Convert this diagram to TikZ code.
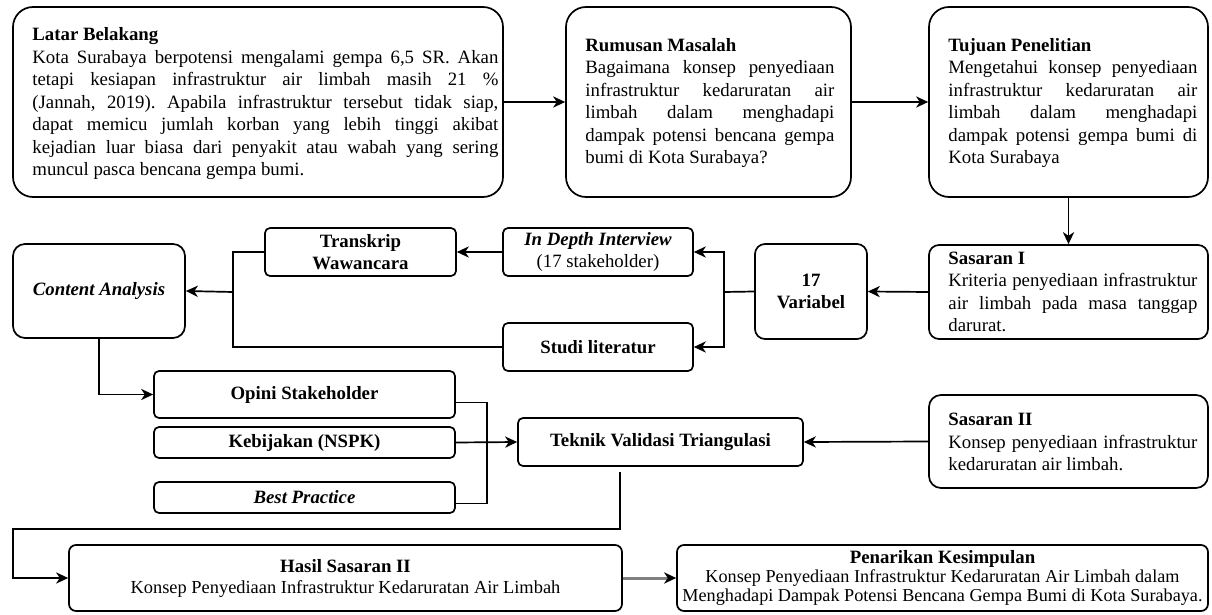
\documentclass[tikz,border=0pt]{standalone}
\usepackage{fontspec}
\setmainfont{Liberation Serif}
\usetikzlibrary{arrows.meta,calc}
\frenchspacing

% one justified line / one plain line of a boxed paragraph
\newcommand\jl[1]{\hbox to\hsize{#1}}
\newcommand\pl[1]{\hbox{#1}}

\tikzset{
  x=0.5pt, y=-0.5pt,
  bx/.style={draw, line width=0.85pt, inner sep=0pt, rounded corners=#1,
    font=\fontsize{9.4}{11}\selectfont\bfseries, align=center},
  bx/.default=2.5pt,
  bxr/.style={bx=#1, font=\fontsize{9.2}{10}\selectfont},
  para/.style={inner sep=0pt, anchor=west, font=\fontsize{9.4}{11.25}\selectfont},
  ln/.style={line width=0.85pt},
  arr/.style={line width=0.85pt, -{Stealth[length=6pt,width=5.6pt,inset=1.8pt]}},
  garr/.style={line width=1.5pt, draw=gray, -{Stealth[length=6pt,width=5.6pt,inset=1.8pt,color=black]}},
}

\begin{document}
\begin{tikzpicture}
\useasboundingbox[fill=white] (0,0) rectangle (1212,615);

% ---- top row
\node[bx=10pt, minimum width=245pt, minimum height=95pt] (latar) at (258,102) {};
\node[para] (latarT) at (32,104) {\vbox{\hsize=233pt
  \pl{\bfseries Latar Belakang}
  \jl{Kota Surabaya berpotensi mengalami gempa 6,5 SR. Akan}
  \jl{tetapi kesiapan infrastruktur air limbah masih 21 \%}
  \jl{(Jannah, 2019). Apabila infrastruktur tersebut tidak siap,}
  \jl{dapat memicu jumlah korban yang lebih tinggi akibat}
  \jl{kejadian luar biasa dari penyakit atau wabah yang sering}
  \pl{muncul pasca bencana gempa bumi.}}};

\node[bx=10pt, minimum width=142.5pt, minimum height=95pt] (rumusan) at (708.5,102) {};
\node[para] (rumusanT) at (585,103) {\vbox{\hsize=124.5pt
  \pl{\bfseries Rumusan Masalah}
  \jl{Bagaimana konsep penyediaan}
  \jl{infrastruktur kedaruratan air}
  \jl{limbah dalam menghadapi}
  \jl{dampak potensi bencana gempa}
  \pl{bumi di Kota Surabaya?}}};

\node[bx=10pt, minimum width=139.5pt, minimum height=95pt] (tujuan) at (1068.5,102) {};
\node[para] (tujuanT) at (948,103) {\vbox{\hsize=124.5pt
  \pl{\bfseries Tujuan Penelitian}
  \jl{Mengetahui konsep penyediaan}
  \jl{infrastruktur kedaruratan air}
  \jl{limbah dalam menghadapi}
  \jl{dampak potensi gempa bumi di}
  \pl{Kota Surabaya}}};

% ---- second row
\node[bx=5pt, minimum width=139.5pt, minimum height=47pt] (s1) at (1068.5,292) {};
\node[para] (s1T) at (948,292) {\vbox{\hsize=124.5pt
  \pl{\bfseries Sasaran I}
  \jl{Kriteria penyediaan infrastruktur}
  \jl{air limbah pada masa tanggap}
  \pl{darurat.}}};

\node[bx=5pt, minimum width=56pt, minimum height=47.5pt] (var) at (811,291.5) {17\\Variabel};
\node[bx, minimum width=95pt, minimum height=24pt] (indepth) at (598,252)
  {\itshape In Depth Interview\\\mdseries\upshape (17 stakeholder)};
\node[bx, minimum width=95.5pt, minimum height=24pt] (transkrip) at (360.5,252)
  {Transkrip\\Wawancara};
\node[bx, minimum width=95pt, minimum height=24pt] (studi) at (598,347) {Studi literatur};
\node[bx=6pt, minimum width=86pt, minimum height=47pt] (content) at (99,291)
  {\itshape Content Analysis};

% ---- validation row
\node[bx, minimum width=150.5pt, minimum height=23.5pt] (opini) at (304.5,394.5) {Opini Stakeholder};
\node[bx, minimum width=150.5pt, minimum height=15.5pt] (kebij) at (304.5,442.5) {Kebijakan (NSPK)};
\node[bx, minimum width=150.5pt, minimum height=15.5pt] (best) at (304.5,497.5) {\itshape Best Practice};
\node[bx, minimum width=142.5pt, minimum height=24pt] (teknik) at (660.5,442)
  {Teknik Validasi Triangulasi};

\node[bx=6pt, minimum width=139.5pt, minimum height=46.5pt] (s2) at (1068.5,441.5) {};
\node[para] (s2T) at (948,442) {\vbox{\hsize=124.5pt
  \pl{\bfseries Sasaran II}
  \jl{Konsep penyediaan infrastruktur}
  \pl{kedaruratan air limbah.}}};

% ---- results row
\node[bxr=3.5pt, minimum width=276.5pt, minimum height=33pt, font=\fontsize{9.2}{10.5}\selectfont]
  (hasil) at (345.5,578)
  {{\fontsize{9.4}{10.5}\selectfont\bfseries Hasil Sasaran II}\\
   Konsep Penyediaan Infrastruktur Kedaruratan Air Limbah};
\node[bxr=3.5pt, minimum width=265.5pt, minimum height=33pt, font=\fontsize{9.1}{9.6}\selectfont]
  (penarikan) at (942.5,578)
  {{\fontsize{9.4}{9.6}\selectfont\bfseries Penarikan Kesimpulan}\\
   Konsep Penyediaan Infrastruktur Kedaruratan Air Limbah dalam\\
   Menghadapi Dampak Potensi Bencana Gempa Bumi di Kota Surabaya.};

% ---- junction points
\coordinate (j1) at (724,292);
\coordinate (j2) at (233,292);
\coordinate (jv) at (487,450);
\coordinate (t0) at (620,472);
\coordinate (t1) at (620,529);
\coordinate (t2) at (13,529);

% ---- connectors
\draw[arr] (latar.east) -- (rumusan.west);
\draw[arr] (rumusan.east) -- (tujuan.west);
\draw[arr] (tujuan.south) -- (s1.north);
\draw[arr] (s1.west) -- (var.east);
\draw[ln] (var.west) -- (j1);
\draw[arr] (j1) |- (indepth.east);
\draw[arr] (j1) |- (studi.east);
\draw[arr] (indepth.west) -- (transkrip.east);
\draw[ln] (transkrip.west) -| (j2);
\draw[ln] (studi.west) -| (j2);
\draw[arr] (j2) -- (content.east);
\draw[arr] (content.south) |- (opini.west);
\draw[ln] ($(opini.east)+(0,8)$) -| (jv) |- ($(best.east)+(0,6)$);
\draw[arr] (kebij.east) -- (teknik.west);
\draw[arr] (s2.west) -- (teknik.east);
\draw[arr] (t0) -- (t1) -- (t2) |- (hasil.west);
\draw[garr] (hasil.east) -- (penarikan.west);
\end{tikzpicture}
\end{document}
